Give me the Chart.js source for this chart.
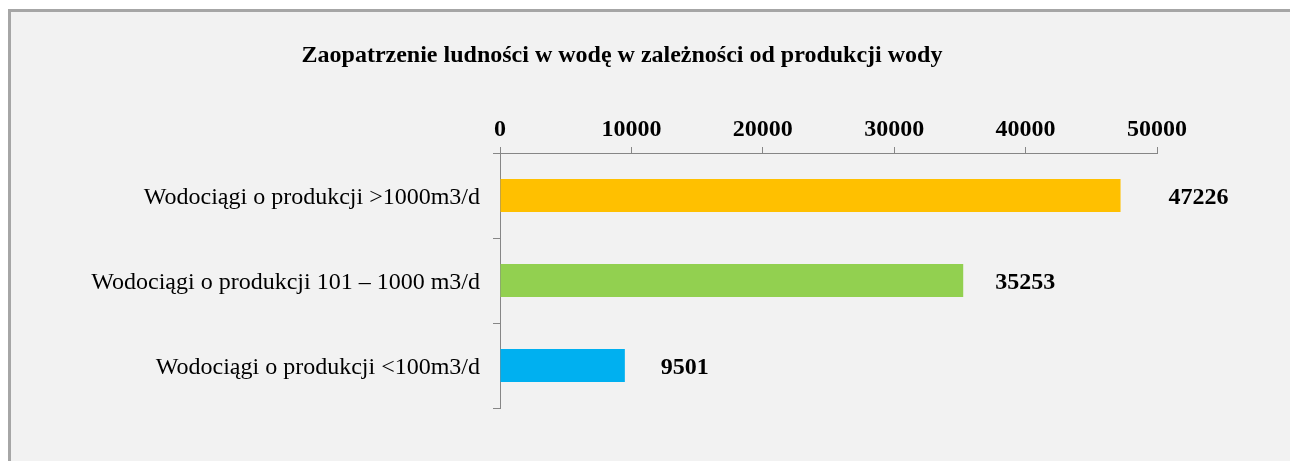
<!DOCTYPE html>
<html><head><meta charset="utf-8">
<script src="https://cdn.jsdelivr.net/npm/chart.js@4.4.1/dist/chart.umd.min.js"></script>
<style>
html,body{margin:0;padding:0;background:#fff;width:1290px;height:461px;overflow:hidden;}
#frame{position:absolute;left:8px;top:9px;width:1282px;height:452px;background:#f2f2f2;border-top:3px solid #a6a6a6;border-left:3px solid #a6a6a6;box-sizing:border-box;}
#wrap{position:absolute;left:0;top:0;width:1290px;height:461px;}
</style></head><body>
<div id="frame"></div>
<div id="wrap"><canvas id="c" width="1290" height="461"></canvas></div>
<script>
const chartTitle = 'Zaopatrzenie ludności w wodę w zależności od produkcji wody';
const categories = ['Wodociągi o produkcji >1000m3/d', 'Wodociągi o produkcji 101 – 1000 m3/d', 'Wodociągi o produkcji <100m3/d'];
const values = [47226, 35253, 9501];
const barColors = ['#FFC000', '#92D050', '#00B0F0'];
const xMin = 0, xMax = 50000, xStep = 10000;

const FONT = '"Liberation Serif", "Times New Roman", serif';
const AXIS = '#868686';

const overlay = {
  id: 'overlay',
  afterDatasetsDraw(chart, args, opts) {
    const ctx = chart.ctx;
    const meta = chart.getDatasetMeta(0);
    ctx.save();
    ctx.fillStyle = '#000';
    ctx.font = 'bold 24px ' + FONT;
    ctx.textAlign = 'left';
    ctx.textBaseline = 'middle';
    meta.data.forEach((bar, i) => {
      ctx.fillText(String(values[i]), bar.x + opts.gaps[i], bar.y + opts.dy);
    });
    ctx.textAlign = 'center';
    ctx.textBaseline = 'alphabetic';
    ctx.fillText(chartTitle, opts.titleX, opts.titleY);
    ctx.restore();
  }
};

new Chart(document.getElementById('c'), {
  type: 'bar',
  data: {
    labels: categories,
    datasets: [{
      data: values,
      backgroundColor: barColors,
      borderWidth: 0,
      barPercentage: 0.39,
      categoryPercentage: 1
    }]
  },
  options: {
    indexAxis: 'y',
    responsive: false,
    devicePixelRatio: 1,
    animation: false,
    layout: { padding: { left: 0, top: 0, right: 133, bottom: 53 } },
    plugins: {
      legend: { display: false },
      tooltip: { enabled: false },
      title: { display: false },
      overlay: { gaps: [48, 32, 36], dy: 2, titleX: 622, titleY: 62 }
    },
    scales: {
      x: {
        position: 'top',
        min: xMin, max: xMax,
        afterFit(s) { s.height = 153; },
        ticks: { stepSize: xStep, color: '#000', font: { family: FONT, size: 24, weight: 'bold' }, padding: 3, maxRotation: 0,
                 callback: (v) => String(v) },
        grid: { drawOnChartArea: false, tickLength: 6, color: AXIS, lineWidth: 1 },
        border: { display: true, color: AXIS, width: 1 }
      },
      y: {
        afterFit(s) { s.width = 500; },
        ticks: { color: '#000', font: { family: FONT, size: 24 }, padding: 13, labelOffset: 2 },
        grid: { offset: true, drawOnChartArea: false, tickLength: 7, color: AXIS, lineWidth: 1 },
        border: { display: true, color: AXIS, width: 1 }
      }
    }
  },
  plugins: [overlay]
});
</script>
</body></html>
